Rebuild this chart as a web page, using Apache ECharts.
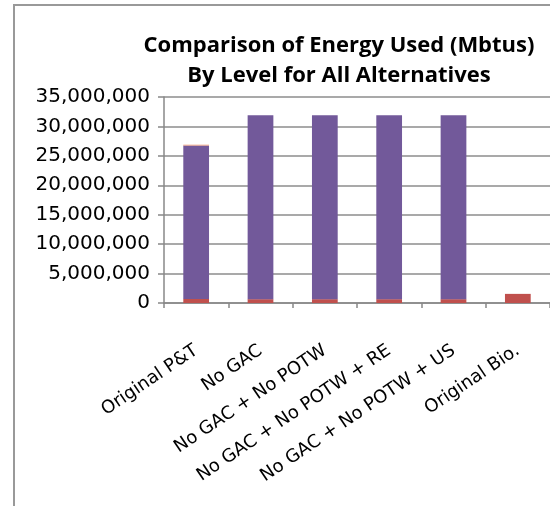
<!DOCTYPE html>
<html><head><meta charset="utf-8">
<script src="https://cdn.jsdelivr.net/npm/echarts@6/dist/echarts.min.js"></script>
<style>html,body{margin:0;padding:0;background:#fff}#c{width:550px;height:506px}</style>
</head><body><div id="c"></div>
<script>
const categories = ['Original P&T','No GAC','No GAC + No POTW','No GAC + No POTW + RE','No GAC + No POTW + US','Original Bio.'];
const levelRed = [700000, 650000, 650000, 650000, 650000, 1550000];
const levelPurple = [26050000, 31250000, 31250000, 31250000, 31250000, 0];
const levelOrange = [150000, 0, 0, 0, 0, 0];
const yTicks = [0, 5000000, 10000000, 15000000, 20000000, 25000000, 30000000, 35000000];

const chart = echarts.init(document.getElementById('c'));
const fmt = v => v.toLocaleString('en-US');
chart.setOption({
  animation: false,
  title: {
    text: 'Comparison of Energy Used (Mbtus)\nBy Level for All Alternatives',
    left: 334, top: 26, textAlign: 'center',
    textStyle: {fontFamily: 'Open Sans', fontWeight: 'bold', fontSize: 22, lineHeight: 30, color: '#000'}
  },
  graphic: [{type: 'rect', shape: {x: 14, y: 5, width: 700, height: 700}, style: {fill: 'none', stroke: '#999', lineWidth: 2}, silent: true}],
  grid: {left: 164, right: -7, top: 97, bottom: 203, containLabel: false},
  xAxis: {
    type: 'category', data: categories,
    axisLine: {lineStyle: {color: '#888', width: 1.5}},
    axisTick: {show: true, length: 5, lineStyle: {color: '#888', width: 1.5}},
    axisLabel: {rotate: 34, interval: 0, margin: 46, fontFamily: 'DejaVu Sans', fontSize: 18, color: '#000'}
  },
  yAxis: {
    type: 'value', min: yTicks[0], max: yTicks[yTicks.length - 1], interval: 5000000,
    axisLine: {show: true, lineStyle: {color: '#888', width: 1.5}},
    axisTick: {show: true, length: 6, lineStyle: {color: '#888', width: 1.5}},
    splitLine: {lineStyle: {color: '#8c8c8c', width: 1.5}},
    axisLabel: {formatter: fmt, margin: 14, fontFamily: 'DejaVu Sans', fontSize: 20, fontWeight: 500, color: '#000'}
  },
  series: [
    {name: 'Red', type: 'bar', stack: 'a', barWidth: '40%', data: levelRed, itemStyle: {color: '#c0504d'}},
    {name: 'Purple', type: 'bar', stack: 'a', data: levelPurple, itemStyle: {color: '#72599a'}},
    {name: 'Orange', type: 'bar', stack: 'a', data: levelOrange, itemStyle: {color: '#f4a582'}}
  ]
});
</script></body></html>
